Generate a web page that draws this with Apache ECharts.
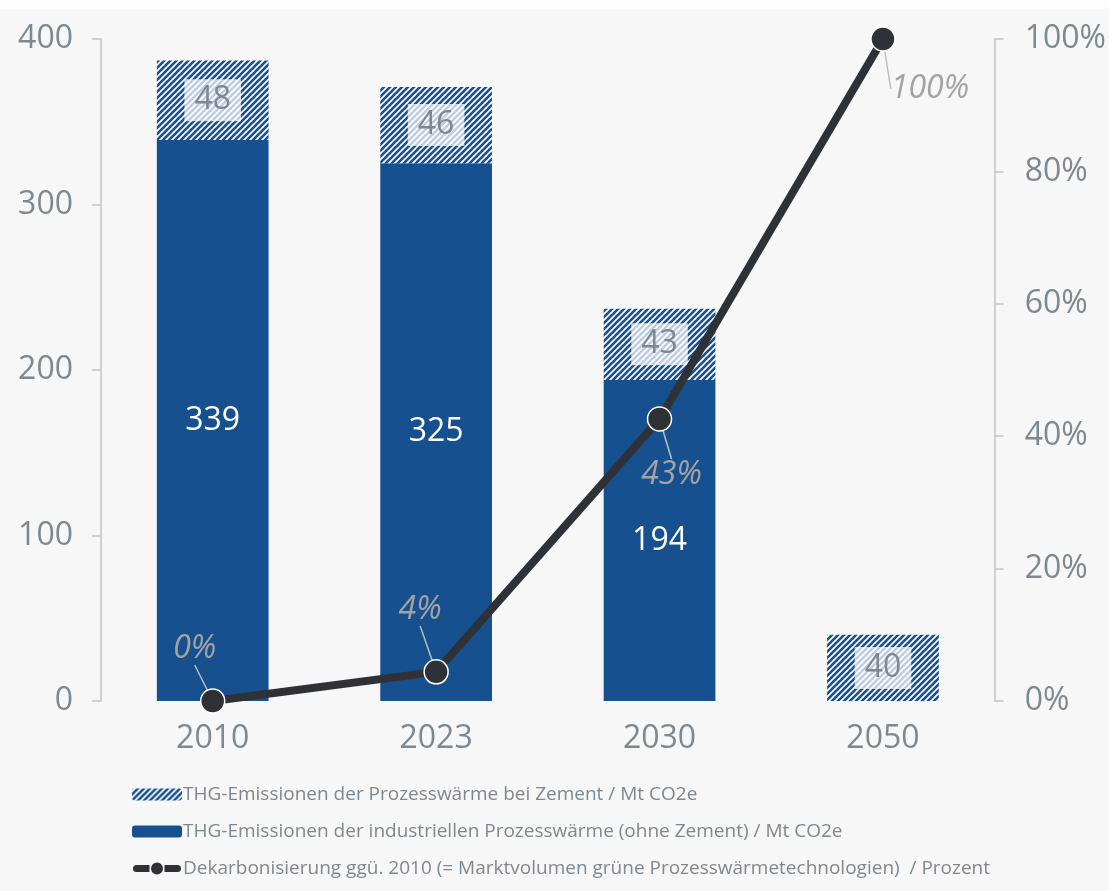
<!DOCTYPE html>
<html><head><meta charset="utf-8">
<script src="https://cdn.jsdelivr.net/npm/echarts@6/dist/echarts.min.js"></script>
<style>
html,body{margin:0;padding:0;background:#fdfdfd;}
#c{position:absolute;left:0;top:9px;width:1109px;height:882px;background:#f7f7f7;}
</style></head>
<body><div id="c"></div>
<script>
const categories = ['2010','2023','2030','2050'];
const solidValues = [339, 325, 194, null];
const hatchValues = [48, 46, 43, 40];
const decarbValues = [0, 4.4, 42.6, 100];
const leftTicks = [0, 100, 200, 300, 400];
const rightTicks = [0, 20, 40, 60, 80, 100];
const seriesNames = [
  'THG-Emissionen der Prozesswärme bei Zement / Mt CO2e',
  'THG-Emissionen der industriellen Prozesswärme (ohne Zement) / Mt CO2e',
  'Dekarbonisierung ggü. 2010 (= Marktvolumen grüne Prozesswärmetechnologien)  / Prozent'
];
const labelOffsets = [[-18,-52],[-16,-62],[12,56],[47,50]];

const BLUE = '#16508f';
const GREY = '#7d8891';
const FONT = 'Open Sans';
const FS = 32;

function makePattern(){
  const s = 6;
  const cv = document.createElement('canvas');
  cv.width = s; cv.height = s;
  const ctx = cv.getContext('2d');
  ctx.fillStyle = '#ffffff';
  ctx.fillRect(0,0,s,s);
  ctx.strokeStyle = BLUE;
  ctx.lineWidth = 2.6;
  ctx.beginPath();
  ctx.moveTo(-1, s+1); ctx.lineTo(s+1, -1);
  ctx.moveTo(-1, 1); ctx.lineTo(1, -1);
  ctx.moveTo(s-1, s+1); ctx.lineTo(s+1, s-1);
  ctx.stroke();
  return cv;
}
const pattern = {image: makePattern(), repeat: 'repeat'};
const lineIcon = 'path://M3.5,2.5 H16.5 V9.5 H3.5 A3.5,3.5 0 0 1 3.5,2.5 Z M24,0 A6,6 0 1 1 23.99,0 Z M31.5,2.5 H44.5 A3.5,3.5 0 0 1 44.5,9.5 H31.5 Z';

const chart = echarts.init(document.getElementById('c'));
chart.setOption({
  animation: false,
  backgroundColor: '#f7f7f7',
  textStyle: {fontFamily: FONT},
  grid: {left: 101, right: 110, top: 30, bottom: 190},
  xAxis: {
    type: 'category', data: categories,
    axisLine: {show: false}, axisTick: {show: false},
    axisLabel: {color: GREY, fontSize: FS, margin: 22, fontFamily: FONT}
  },
  yAxis: [{
    type: 'value', min: 0, max: 400, interval: 100,
    splitLine: {show: false},
    axisLine: {show: true, lineStyle: {color: '#c4c4c4', width: 1.5}},
    axisTick: {show: true, length: 9, lineStyle: {color: '#c4c4c4', width: 1.5}},
    axisLabel: {color: GREY, fontSize: FS, margin: 28, fontFamily: FONT,
      formatter: v => leftTicks.includes(v) ? String(v) : ''}
  },{
    type: 'value', min: 0, max: 100, interval: 20, position: 'right',
    splitLine: {show: false},
    axisLine: {show: true, lineStyle: {color: '#c4c4c4', width: 1.5}},
    axisTick: {show: true, length: 9, lineStyle: {color: '#c4c4c4', width: 1.5}},
    axisLabel: {color: GREY, fontSize: FS, margin: 30, fontFamily: FONT,
      formatter: v => rightTicks.includes(v) ? v + '%' : ''}
  }],
  legend: {
    orient: 'vertical', left: 127, top: 771, itemGap: 18,
    itemWidth: 50, itemHeight: 12,
    textStyle: {color: GREY, fontSize: 19, fontFamily: FONT, padding: [0,0,0,-4]},
    data: [
      {name: seriesNames[0]},
      {name: seriesNames[1]},
      {name: seriesNames[2], icon: lineIcon, itemStyle: {color: '#2e3236', borderWidth: 0}}
    ]
  },
  series: [{
    name: seriesNames[1], type: 'bar', stack: 'a', barWidth: '50%',
    data: solidValues,
    itemStyle: {color: BLUE},
    label: {show: true, position: 'inside', color: '#ffffff', fontSize: FS, fontFamily: FONT}
  },{
    name: seriesNames[0], type: 'bar', stack: 'a', barWidth: '50%',
    data: hatchValues,
    itemStyle: {color: pattern},
    label: {show: true, position: 'inside', color: GREY, fontSize: FS, fontFamily: FONT,
      backgroundColor: 'rgba(255,255,255,0.72)', padding: [6, 10, 4, 10]}
  },{
    name: seriesNames[2], type: 'line', yAxisIndex: 1, z: 5,
    data: decarbValues,
    lineStyle: {color: '#2e3236', width: 8},
    itemStyle: {color: '#2e3236', borderColor: '#ffffff', borderWidth: 1.5},
    symbol: 'circle', symbolSize: 24,
    label: {show: true, position: 'inside', color: '#a3a3a3', fontSize: FS, fontStyle: 'italic',
      fontFamily: FONT, formatter: p => Math.round(p.value) + '%'},
    labelLine: {show: true, lineStyle: {color: '#b9bfc3', width: 1.5}},
    labelLayout: p => ({dx: labelOffsets[p.dataIndex][0], dy: labelOffsets[p.dataIndex][1]})
  }]
});
</script></body></html>
